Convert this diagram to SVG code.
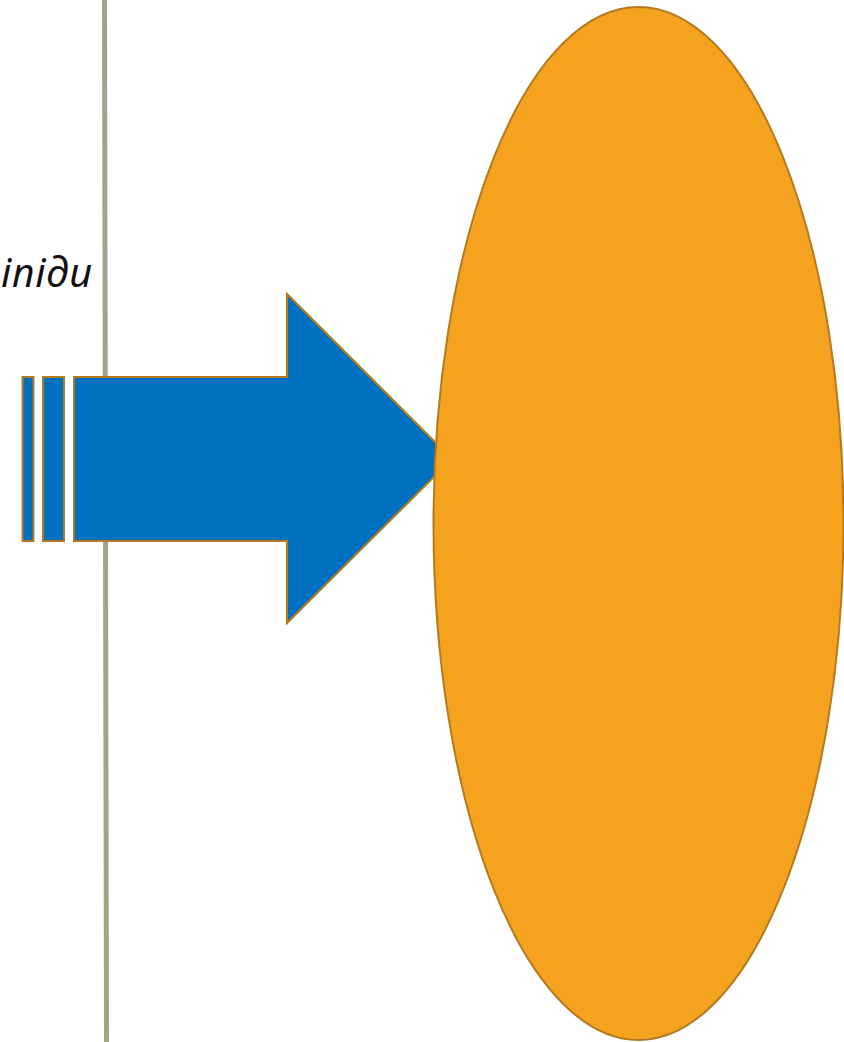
<svg xmlns="http://www.w3.org/2000/svg" width="844" height="1042" viewBox="0 0 844 1042">
  <style>
    .shape { fill: #0070C0; stroke: #B57A1E; stroke-width: 2; stroke-linejoin: miter; }
    .cell { fill: #F5A31F; stroke: #B57A1E; stroke-width: 2; }
    .label { font-family: "Noto Sans", "DejaVu Sans", sans-serif; font-style: italic; font-size: 40px; fill: #111111; }
  </style>
  <rect width="844" height="1042" fill="#FFFFFF"/>

  <!-- vertical divider -->
  <g id="divider">
    <line x1="104.5" y1="0" x2="106.5" y2="1042" stroke="#A0A58A" stroke-width="5"/>
  </g>

  <g id="label">
    <text class="label" x="1" y="287" textLength="91" lengthAdjust="spacing">іпіди</text>
  </g>

  <!-- striped block arrow -->
  <g id="arrow">
    <rect class="shape" x="22.5" y="377" width="11" height="164"/>
    <rect class="shape" x="43" y="377" width="21" height="164"/>
    <polygon class="shape" points="74,377 287,377 287,294 452,459 287,623 287,541 74,541"/>
  </g>

  <g id="cell">
    <ellipse class="cell" cx="638.5" cy="523.5" rx="205" ry="516.5"/>
  </g>
</svg>
